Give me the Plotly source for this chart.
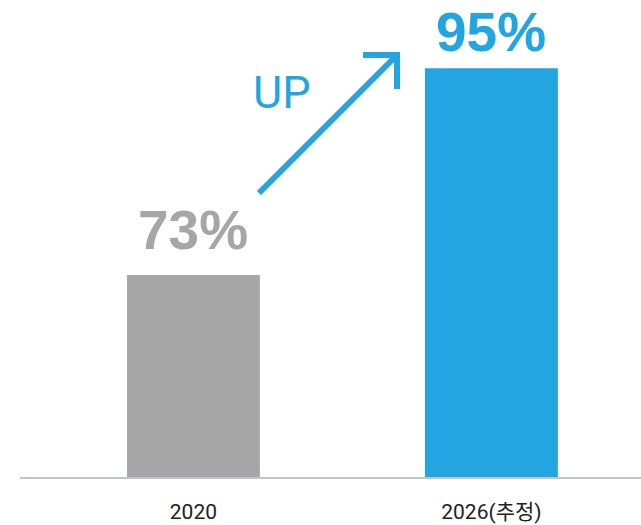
import plotly.graph_objects as go

categories = ["2020", "2026(추정)"]
values = [73, 95]
value_labels = ["73%", "95%"]
bar_colors = ["#a6a6a6", "#22a5e1"]
label_colors = ["#a6a6a6", "#22a5e1"]
label_shifts = [12, 3]

W, H = 641, 525
ML, MR, MT, MB = 20, 0, 0, 48
PW, PH = W - ML - MR, H - MT - MB

def px(x):
    return (x - ML) / PW

def py(y):
    return (H - MB - y) / PH

fig = go.Figure()
fig.add_trace(go.Bar(
    x=categories, y=values, marker_color=bar_colors, marker_line_width=0,
    hoverinfo="skip", base=0,
))

for i, (v, t, col, s) in enumerate(zip(values, value_labels, label_colors, label_shifts)):
    fig.add_annotation(
        x=i, y=v, text=t, showarrow=False, yanchor="bottom", yshift=s,
        font=dict(family="Liberation Sans, Arial, sans-serif", size=55, color=col, weight="bold"),
    )

fig.add_annotation(
    xref="paper", yref="paper", x=px(282), y=py(92), text="UP", showarrow=False,
    xanchor="center", yanchor="middle",
    font=dict(family="Roboto, Inter, sans-serif", size=45, color="#22a5e1"),
)

path = (f"M {px(259)},{py(193)} L {px(397)},{py(55)} "
        f"M {px(363)},{py(55)} L {px(397)},{py(55)} L {px(397)},{py(89)}")
fig.add_shape(type="path", xref="paper", yref="paper", path=path,
              line=dict(color="#22a5e1", width=6))

fig.update_layout(
    width=W, height=H, margin=dict(l=ML, r=MR, t=MT, b=MB),
    paper_bgcolor="white", plot_bgcolor="white",
    bargap=0.554, showlegend=False,
    xaxis=dict(type="category", range=[-0.582, 1.502], showgrid=False, zeroline=False,
               showline=True, linecolor="#bcc6cd", linewidth=1.5,
               ticks="", ticklabelstandoff=15,
               tickfont=dict(family="Roboto, Noto Sans CJK KR, sans-serif", size=21, color="#222222")),
    yaxis=dict(range=[51.5, 102.27], visible=False, showgrid=False, zeroline=False),
)

fig.write_html("out.html", config={"displayModeBar": False},
               post_script="document.body.style.margin='0';")
